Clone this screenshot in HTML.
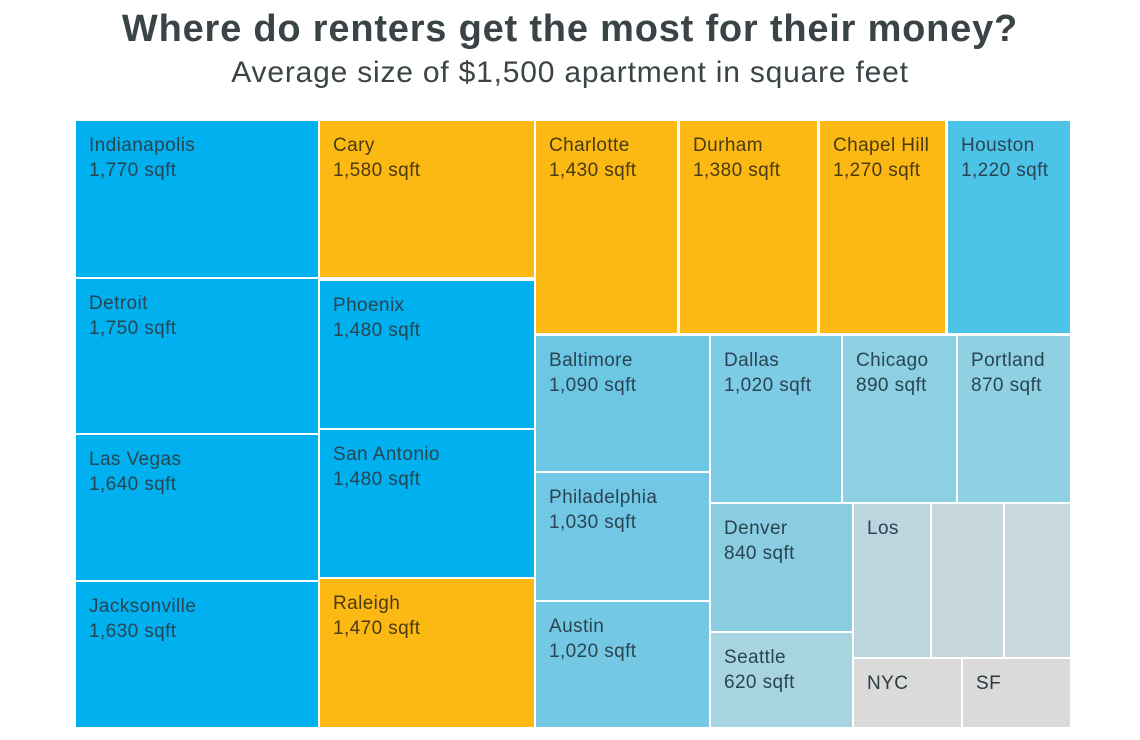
<!DOCTYPE html>
<html><head><meta charset="utf-8"><style>
body{margin:0;width:1140px;height:740px;background:#fff;font-family:"Liberation Sans",sans-serif;position:relative;overflow:hidden}
.t{position:absolute;left:0;width:1140px;text-align:center;color:#3a4447;white-space:nowrap}
.b{position:absolute;box-sizing:border-box;padding:12px 0 0 13px;font-size:19px;letter-spacing:0.4px;line-height:25px;color:#2a4552;white-space:nowrap;overflow:hidden}
.B{background:#00b0ef}.Y{background:#fdb913;color:#4a3a10}
</style></head><body>
<div class="t" style="top:8px;font-size:38px;font-weight:bold;letter-spacing:0.8px">Where do renters get the most for their money?</div>
<div class="t" style="top:56px;font-size:30px;letter-spacing:0.8px">Average size of $1,500 apartment in square feet</div>
<div class="b B" style="left:76px;top:121px;width:242px;height:156px">Indianapolis<br>1,770 sqft</div>
<div class="b B" style="left:76px;top:279px;width:242px;height:154px">Detroit<br>1,750 sqft</div>
<div class="b B" style="left:76px;top:435px;width:242px;height:145px">Las Vegas<br>1,640 sqft</div>
<div class="b B" style="left:76px;top:582px;width:242px;height:145px">Jacksonville<br>1,630 sqft</div>
<div class="b Y" style="left:320px;top:121px;width:214px;height:156px">Cary<br>1,580 sqft</div>
<div class="b B" style="left:320px;top:281px;width:214px;height:147px">Phoenix<br>1,480 sqft</div>
<div class="b B" style="left:320px;top:430px;width:214px;height:147px">San Antonio<br>1,480 sqft</div>
<div class="b Y" style="left:320px;top:579px;width:214px;height:148px">Raleigh<br>1,470 sqft</div>
<div class="b Y" style="left:536px;top:121px;width:141px;height:212px">Charlotte<br>1,430 sqft</div>
<div class="b Y" style="left:680px;top:121px;width:137px;height:212px">Durham<br>1,380 sqft</div>
<div class="b Y" style="left:820px;top:121px;width:125px;height:212px">Chapel Hill<br>1,270 sqft</div>
<div class="b" style="left:948px;top:121px;width:122px;height:212px;background:#4dc3e8">Houston<br>1,220 sqft</div>
<div class="b" style="left:536px;top:336px;width:173px;height:135px;background:#6dc6e4">Baltimore<br>1,090 sqft</div>
<div class="b" style="left:536px;top:473px;width:173px;height:127px;background:#72c8e4">Philadelphia<br>1,030 sqft</div>
<div class="b" style="left:536px;top:602px;width:173px;height:125px;background:#74c8e4">Austin<br>1,020 sqft</div>
<div class="b" style="left:711px;top:336px;width:130px;height:166px;background:#7ecbe5">Dallas<br>1,020 sqft</div>
<div class="b" style="left:843px;top:336px;width:113px;height:166px;background:#8dcfe3">Chicago<br>890 sqft</div>
<div class="b" style="left:958px;top:336px;width:112px;height:166px;background:#8fd0e3">Portland<br>870 sqft</div>
<div class="b" style="left:711px;top:504px;width:141px;height:127px;background:#8acde2">Denver<br>840 sqft</div>
<div class="b" style="left:711px;top:633px;width:141px;height:94px;background:#a8d3e0">Seattle<br>620 sqft</div>
<div class="b" style="left:854px;top:504px;width:76px;height:153px;background:#bcd6df">Los</div>
<div class="b" style="left:932px;top:504px;width:71px;height:153px;background:#c6d8de"></div>
<div class="b" style="left:1005px;top:504px;width:65px;height:153px;background:#cad9de"></div>
<div class="b" style="left:854px;top:659px;width:107px;height:68px;background:#dadada;color:#2a3a40">NYC</div>
<div class="b" style="left:963px;top:659px;width:107px;height:68px;background:#dadada;color:#2a3a40">SF</div>
</body></html>
